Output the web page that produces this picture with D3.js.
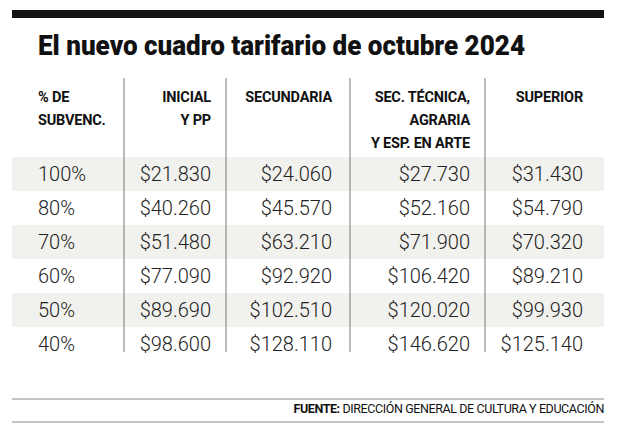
<!DOCTYPE html>
<html><head><meta charset="utf-8">
<script src="https://cdn.jsdelivr.net/npm/d3@7"></script>
<style>body{margin:0;background:#fff}</style>
</head><body><svg id="c" width="619" height="432"></svg>
<script>
const title = "El nuevo cuadro tarifario de octubre 2024";
const subsidies = ["100%","80%","70%","60%","50%","40%"];
const headers = [["% DE","SUBVENC."],["INICIAL","Y PP"],["SECUNDARIA"],["SEC. TÉCNICA,","AGRARIA","Y ESP. EN ARTE"],["SUPERIOR"]];
const inicial = ["$21.830","$40.260","$51.480","$77.090","$89.690","$98.600"];
const secundaria = ["$24.060","$45.570","$63.210","$92.920","$102.510","$128.110"];
const tecnica = ["$27.730","$52.160","$71.900","$106.420","$120.020","$146.620"];
const superior = ["$31.430","$54.790","$70.320","$89.210","$99.930","$125.140"];
const source = "DIRECCIÓN GENERAL DE CULTURA Y EDUCACIÓN";

const svg = d3.select("#c");
const y = d3.scaleBand().domain(subsidies).range([157, 361]).padding(0);
const colX = [38, 211, 332, 470, 583];
const anchors = ["start","end","end","end","end"];
const dividers = [124, 226, 350, 485];
const cols = [subsidies, inicial, secundaria, tecnica, superior];

svg.append("rect").attr("x",12).attr("y",10).attr("width",592).attr("height",8).attr("fill","#111");
svg.append("text").attr("x",38).attr("y",55).text(title)
  .attr("font-family","Roboto").attr("font-weight",900).attr("font-size",27)
  .attr("textLength",487).attr("lengthAdjust","spacingAndGlyphs").attr("fill","#111");

subsidies.forEach((s,i)=>{ if(i%2===0) svg.append("rect").attr("x",12).attr("y",y(s)).attr("width",592).attr("height",y.bandwidth()).attr("fill","#f1f1ee"); });

dividers.forEach(x=>svg.append("line").attr("x1",x).attr("x2",x).attr("y1",78).attr("y2",352).attr("stroke","#777").attr("stroke-width",1));

headers.forEach((h,c)=>h.forEach((t,k)=>{
  svg.append("text").attr("x",colX[c]).attr("y",102+k*23).attr("text-anchor",anchors[c])
    .attr("font-family","Roboto").attr("font-weight",700).attr("font-size",14.5)
    .attr("letter-spacing",-0.2).attr("fill","#111").text(t);
}));

cols.forEach((arr,c)=>arr.forEach((v,i)=>{
  svg.append("text").attr("x",colX[c]).attr("y",y(subsidies[i])+y.bandwidth()/2+7)
    .attr("text-anchor",anchors[c]).attr("font-family","Roboto").attr("font-weight",300)
    .attr("font-size",20).attr("fill","#222").text(v);
}));

svg.append("line").attr("x1",12).attr("x2",604).attr("y1",399).attr("y2",399).attr("stroke","#888");
svg.append("line").attr("x1",12).attr("x2",604).attr("y1",422).attr("y2",422).attr("stroke","#888");
const st = svg.append("text").attr("x",604).attr("y",413).attr("text-anchor","end")
  .attr("font-family","Roboto").attr("font-size",12.5).attr("fill","#111").attr("letter-spacing",-0.4);
st.append("tspan").attr("font-weight",700).text("FUENTE: ");
st.append("tspan").text(source);
</script></body></html>
